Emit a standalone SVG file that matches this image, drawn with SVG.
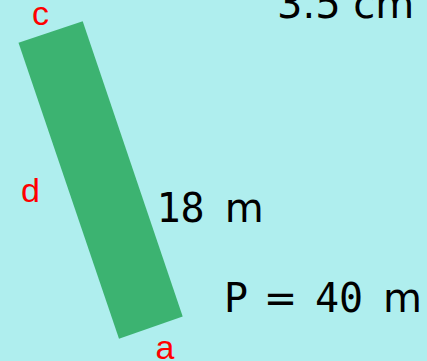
<svg xmlns="http://www.w3.org/2000/svg" width="427" height="361" viewBox="0 0 427 361">
<style>
.lbl{font-family:"Liberation Sans",Arial,sans-serif;font-size:34px;fill:#ff0000}
.mono{font-family:"DejaVu Sans Mono",monospace;font-size:40px;fill:#000}
.sans{font-family:"DejaVu Sans",sans-serif;font-size:40px;fill:#000}
</style>
<rect width="427" height="361" fill="#afeeee"/>
<g id="rect"><polygon points="18.5,42.7 82.7,21.3 182.7,316.5 119,338.7" fill="#3cb371"/></g>
<g id="labels">
<text class="lbl" x="40.5" y="25" text-anchor="middle">c</text>
<text class="lbl" x="30.5" y="202" text-anchor="middle">d</text>
<text class="lbl" x="165" y="359" text-anchor="middle">a</text>
<text class="sans" x="277" y="18" font-size="42">3.5 cm</text>
<text class="mono" x="156.5" y="222">18</text>
<text class="sans" x="224.7" y="222">m</text>
<text class="mono" x="224" y="312">P</text>
<text class="sans" x="263.8" y="312">=</text>
<text class="mono" x="315" y="312">40</text>
<text class="sans" x="383" y="312">m</text>
</g>
</svg>
